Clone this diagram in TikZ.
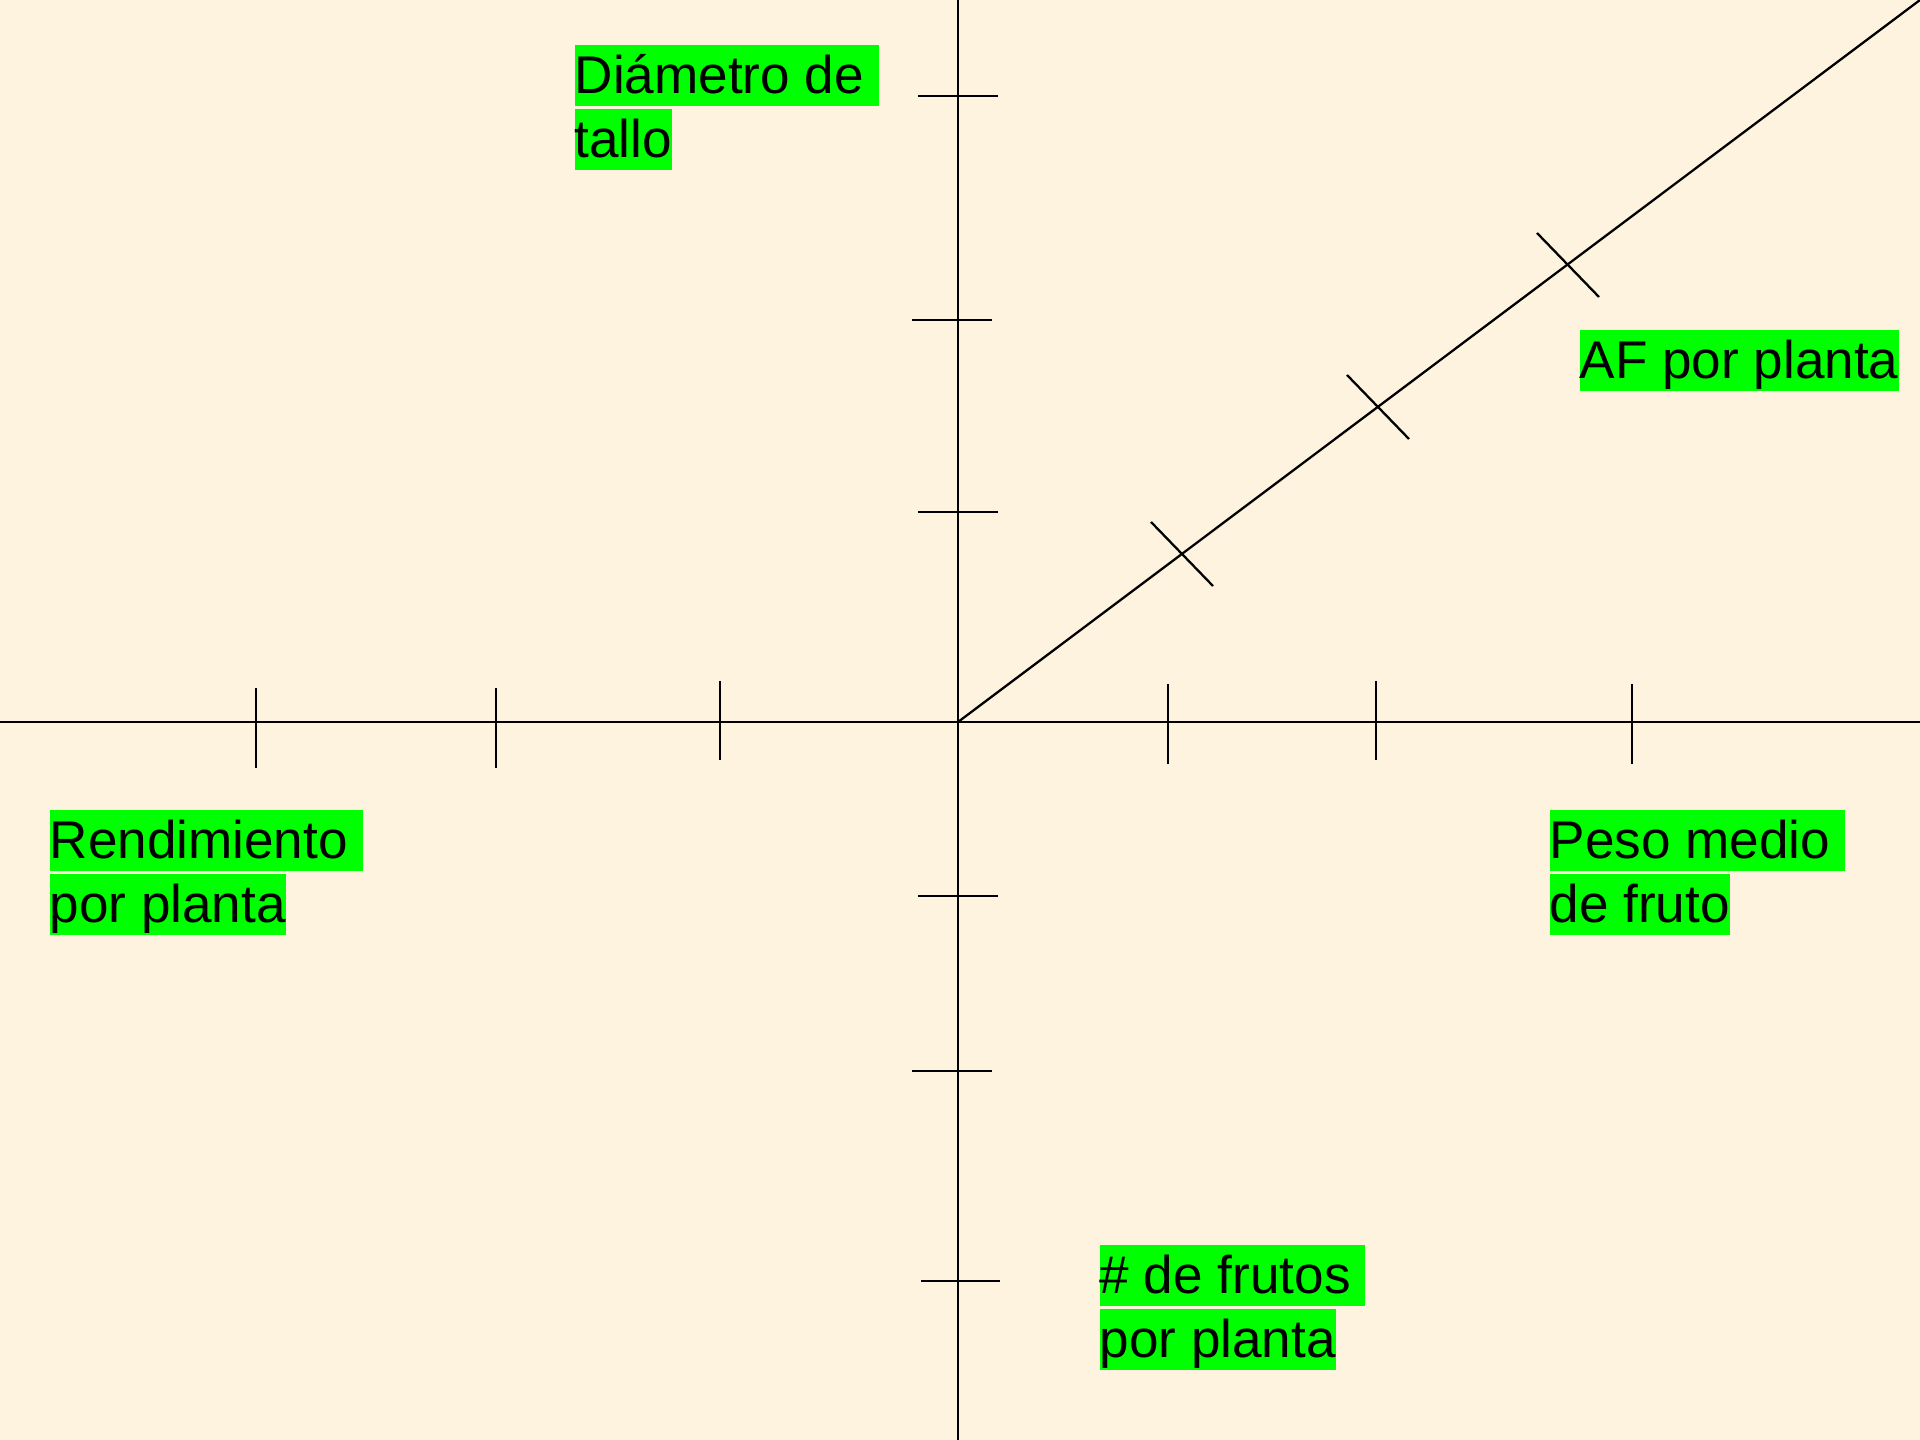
\documentclass[tikz,border=0pt]{standalone}
\usepackage{fontspec}
\setmainfont{Liberation Sans}
\definecolor{parchment}{RGB}{253,243,222}
\definecolor{marker}{RGB}{0,255,0}
\newcommand{\tailspace}{\hbox to .278em{}}
\tikzset{
  axisline/.style={black, line width=0.65pt},
  hilite/.style={fill=marker, inner xsep=0pt, inner ysep=0.3pt, anchor=north west,
    font=\fontsize{15.1pt}{17pt}\selectfont, text height=13.65pt, text depth=3.2pt}
}
\begin{document}
\begin{tikzpicture}[x=0.01cm, y=-0.01cm]
        \useasboundingbox (0,0) rectangle (1920,1440);
        \fill[parchment] (0,0) rectangle (1920,1440);

        % axes
        \draw[axisline] (0,722) -- (1920,722);
        \draw[axisline] (958,0) -- (958,1440);
        \draw[axisline] (958,722) -- (1920,0);

        % ticks on the horizontal axis
        \foreach \tx/\ya/\yb in {256/688/768, 496/688/768, 720/681/760, 1168/684/764, 1376/681/760, 1632/684/764}
          \draw[axisline] (\tx,\ya) -- (\tx,\yb);

        % ticks on the vertical axis
        \foreach \ty/\xa/\xb in {96/918/998, 320/912/992, 512/918/998, 896/918/998, 1071/912/992, 1281/921/1000}
          \draw[axisline] (\xa,\ty) -- (\xb,\ty);

        % ticks on the diagonal
        \foreach \tx/\ty in {1182/554, 1378/407, 1568/265}
          \draw[axisline] (\tx,\ty) +(-31,-32) -- +(31,32);

        % labels
        \node[hilite] (diam1) at (574,44) {Diámetro de\tailspace};
        \node[hilite] (diam2) at (574,108) {tallo};
        \node[hilite] (af) at (1579,329) {AF por planta};
        \node[hilite] (rend1) at (49,809) {Rendimiento\tailspace};
        \node[hilite] (rend2) at (49,873) {por planta};
        \node[hilite] (peso1) at (1549,809) {Peso medio\tailspace};
        \node[hilite] (peso2) at (1549,873) {de fruto};
        \node[hilite] (frut1) at (1099,1244) {\# de frutos\tailspace};
        \node[hilite] (frut2) at (1099,1308) {por planta};
    \end{tikzpicture}
\end{document}
